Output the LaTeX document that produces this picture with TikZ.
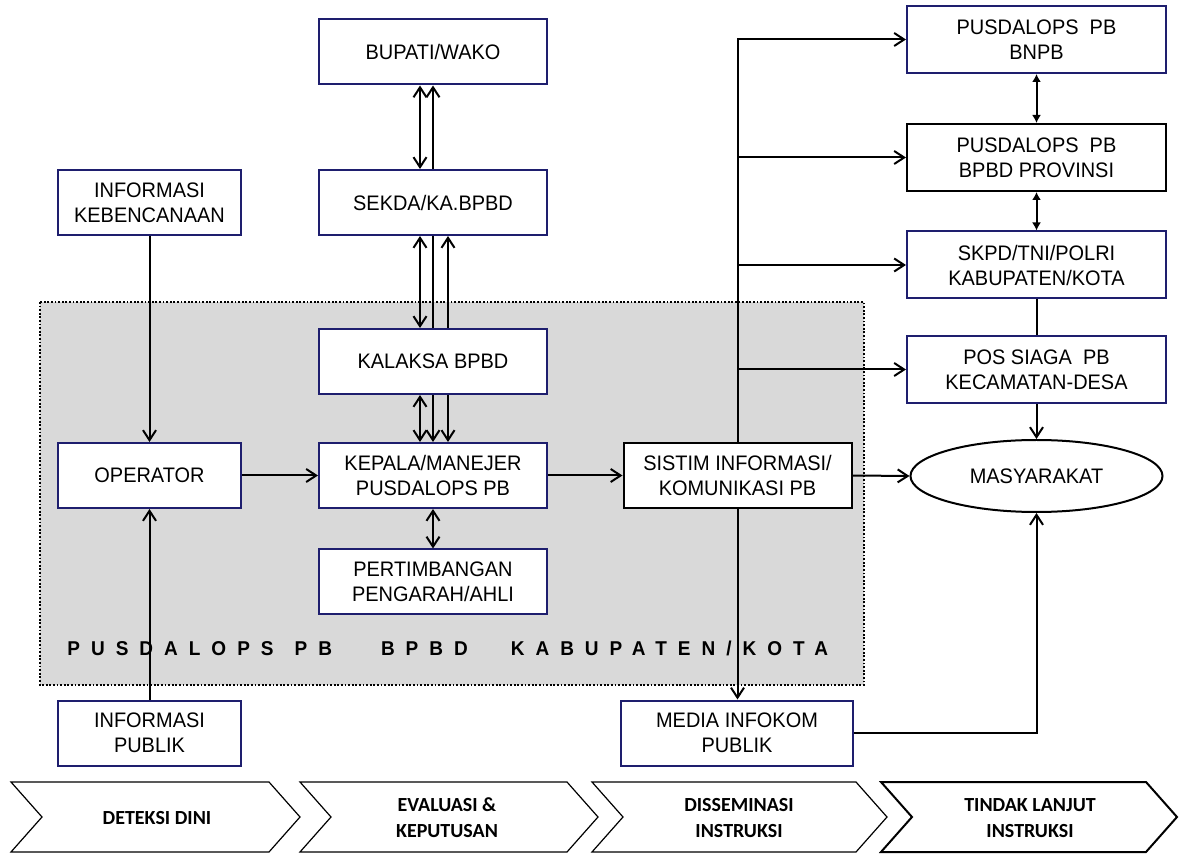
\documentclass[tikz,border=0pt]{standalone}
\usepackage{fontspec}
\setmainfont{Liberation Sans}[FakeStretch=0.95]
\newfontfamily\chevfont{Carlito}
\usetikzlibrary{arrows.meta,shapes.geometric}
\definecolor{navy}{RGB}{30,30,110}
\definecolor{bggray}{RGB}{217,217,217}
\begin{document}
\begin{tikzpicture}[x=0.5pt, y={(0pt,-0.5pt)},
  box/.style={draw=navy, fill=white, line width=1pt, align=center, inner sep=1pt,
    font=\fontsize{10.5}{12.5}\selectfont},
  wbox/.style={box, minimum width=114pt, minimum height=32.5pt},
  lbox/.style={box, minimum width=91.5pt, minimum height=32.5pt},
  rbox/.style={box, minimum width=129.5pt, minimum height=33.5pt},
  oval/.style={box, draw=black, ellipse, inner sep=0pt, minimum width=126pt, minimum height=36pt},
  line/.style={line width=1pt},
  arr/.style={line, -{Straight Barb[length=5pt,width=6.5pt]}},
  arrr/.style={line, {Straight Barb[length=5pt,width=6.5pt]}-{Straight Barb[length=5pt,width=6.5pt]}},
  sarrr/.style={line, {Latex[length=4pt,width=4.5pt]}-{Latex[length=4pt,width=4.5pt]}},
  chev/.style={draw=black, fill=white, line width=0.6pt},
  chevtext/.style={align=center, font=\chevfont\bfseries\fontsize{10}{13}\selectfont},
  unittext/.style={anchor=west, inner sep=0pt,
    font=\bfseries\fontsize{10}{12}\selectfont\addfontfeature{LetterSpace=55}}]
  \useasboundingbox (0,0) rectangle (1179,855);
  % Bereich Pusdalops
  \draw[fill=bggray, line width=0.9pt, dash pattern=on 0.9pt off 0.9pt] (40,302) rectangle (864,685);
  \node[unittext] (unit) at (67,648) {PUSDALOPS\hspace{10.5pt}PB\hspace{24.5pt}BPBD\hspace{21.5pt}KABUPATEN/KOTA};
  % Kotak tengah
  \node[wbox] (bupati) at (433,52) {BUPATI/WAKO};
  \node[wbox] (sekda) at (433,202.5) {SEKDA/KA.BPBD};
  \node[wbox] (kalaksa) at (433,361.5) {KALAKSA BPBD};
  \node[wbox] (kepala) at (433,475.5) {KEPALA/MANEJER\\PUSDALOPS PB};
  \node[wbox] (pertimbangan) at (433,582) {PERTIMBANGAN\\PENGARAH/AHLI};
  % Kotak kiri
  \node[lbox] (infokeb) at (149.5,202.5) {INFORMASI\\KEBENCANAAN};
  \node[lbox] (operator) at (149.5,475.5) {OPERATOR};
  \node[lbox] (infopub) at (149.5,733) {INFORMASI\\PUBLIK};
  % Diseminasi
  \node[wbox, draw=black] (sistim) at (737.5,475.5) {SISTIM INFORMASI/\\KOMUNIKASI PB};
  \node[wbox, minimum width=116pt] (media) at (737,733) {MEDIA INFOKOM\\PUBLIK};
  % Kotak kanan
  \node[rbox] (bnpb) at (1036.5,39.5) {PUSDALOPS\ \ PB\\BNPB};
  \node[rbox, draw=black] (provinsi) at (1036.5,157.5) {PUSDALOPS\ \ PB\\BPBD PROVINSI};
  \node[rbox] (skpd) at (1036.5,265) {SKPD/TNI/POLRI\\KABUPATEN/KOTA};
  \node[rbox] (possiaga) at (1036.5,369.5) {POS SIAGA\ \ PB\\KECAMATAN-DESA};
  \node[oval] (masy) at (1036.5,476) {MASYARAKAT};
  % Garis, panah
  \draw[arrr] ([xshift=-6.5pt]bupati.south) -- ([xshift=-6.5pt]sekda.north);
  \draw[arr] (sekda.north) -- (bupati.south);
  \draw[arrr] ([xshift=-6.5pt]sekda.south) -- ([xshift=-6.5pt]kalaksa.north);
  \draw[line] (sekda.south) -- (kalaksa.north);
  \draw[arr] ([xshift=7.5pt]kalaksa.north) -- ([xshift=7.5pt]sekda.south);
  \draw[arrr] ([xshift=-6.5pt]kalaksa.south) -- ([xshift=-6.5pt]kepala.north);
  \draw[arr] (kalaksa.south) -- (kepala.north);
  \draw[arr] ([xshift=7.5pt]kalaksa.south) -- ([xshift=7.5pt]kepala.north);
  \draw[arrr] (kepala.south) -- (pertimbangan.north);
  \draw[arr] (infokeb) -- (operator);
  \draw[arr] (infopub) -- (operator);
  \draw[arr] (operator) -- (kepala);
  \draw[arr] (kepala) -- (sistim);
  \draw[arr] (sistim.east) -- (masy.west);
  \draw[arr] (sistim.north) |- (bnpb.west);
  \draw[arr] (sistim.north |- provinsi.west) -- (provinsi.west);
  \draw[arr] (sistim.north |- skpd.west) -- (skpd.west);
  \draw[arr] (sistim.north |- possiaga.west) -- (possiaga.west);
  \draw[arr] (sistim.south) -- (sistim.south |- media.north);
  \draw[arr] (media.east) -| (masy.south);
  \draw[sarrr] (bnpb) -- (provinsi);
  \draw[sarrr] (provinsi) -- (skpd);
  \draw[line] (skpd) -- (possiaga);
  \draw[arr] (possiaga) -- (masy);
  % Tahapan
  \draw[chev] (11,782) -- (269,782) -- (300,817) -- (269,852) -- (11,852) -- (42,817) -- cycle;
  \draw[chev] (300,782) -- (567,782) -- (598,817) -- (567,852) -- (300,852) -- (331,817) -- cycle;
  \draw[chev] (592,782) -- (856,782) -- (887,817) -- (856,852) -- (592,852) -- (623,817) -- cycle;
  \draw[chev, line width=1pt] (881,782) -- (1146,782) -- (1177,817) -- (1146,852) -- (881,852) -- (912,817) -- cycle;
  \node[chevtext] (deteksi) at (157,818) {DETEKSI DINI};
  \node[chevtext] (evaluasi) at (447,818) {EVALUASI \&\\KEPUTUSAN};
  \node[chevtext] (diseminasi) at (739,818) {DISSEMINASI\\INSTRUKSI};
  \node[chevtext] (tindak) at (1030,818) {TINDAK LANJUT\\INSTRUKSI};
\end{tikzpicture}
\end{document}
